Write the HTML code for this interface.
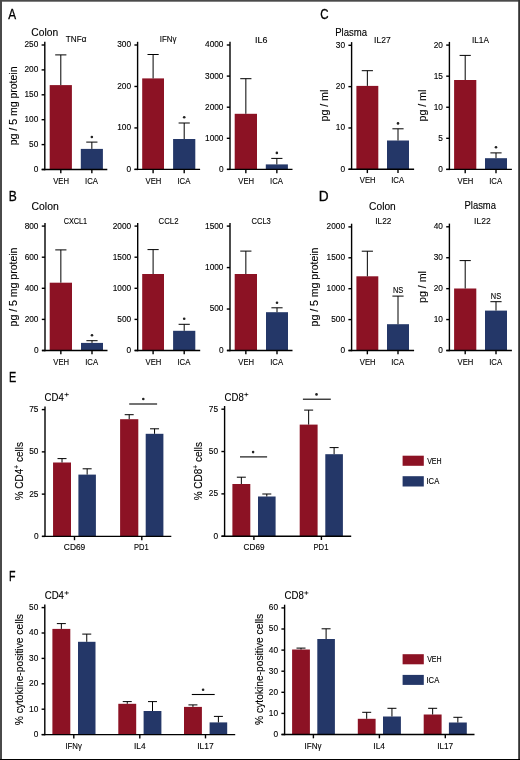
<!DOCTYPE html>
<html><head><meta charset="utf-8"><style>
html,body{margin:0;padding:0;background:#fff;}
body{width:520px;height:760px;overflow:hidden;position:relative;}
svg{position:absolute;left:0;top:0;display:block;will-change:transform;}
text{font-family:"Liberation Sans", sans-serif;fill:#000;stroke:#000;stroke-width:0.12px;}
</style></head><body>
<svg width="520" height="760" viewBox="0 0 520 760">
<rect x="0" y="0" width="520" height="760" fill="#fff"/>
<text x="8.23" y="18.60" font-size="14" text-anchor="start" textLength="7.85" lengthAdjust="spacingAndGlyphs" style="stroke-width:0.3px">A</text>
<text x="31.38" y="36.00" font-size="10.2" text-anchor="start" textLength="26.79" lengthAdjust="spacingAndGlyphs">Colon</text>
<text transform="translate(16.80,105.90) rotate(-90)" x="0" y="0" font-size="10.0" text-anchor="middle" textLength="78.80" lengthAdjust="spacingAndGlyphs">pg / 5 mg protein</text>
<rect x="49.70" y="85.10" width="22.20" height="84.40" fill="#8c1224"/>
<line x1="60.80" y1="54.90" x2="60.80" y2="85.10" stroke="#000" stroke-width="1.0"/>
<line x1="55.20" y1="54.90" x2="66.40" y2="54.90" stroke="#000" stroke-width="1.0"/>
<rect x="80.80" y="148.90" width="22.10" height="20.60" fill="#243768"/>
<line x1="91.85" y1="142.10" x2="91.85" y2="148.90" stroke="#000" stroke-width="1.0"/>
<line x1="86.25" y1="142.10" x2="97.45" y2="142.10" stroke="#000" stroke-width="1.0"/>
<line x1="41.80" y1="169.50" x2="107.30" y2="169.50" stroke="#000" stroke-width="1.4"/>
<line x1="60.80" y1="169.50" x2="60.80" y2="173.30" stroke="#000" stroke-width="1.4"/>
<line x1="91.85" y1="169.50" x2="91.85" y2="173.30" stroke="#000" stroke-width="1.4"/>
<line x1="44.80" y1="41.80" x2="44.80" y2="170.20" stroke="#000" stroke-width="1.4"/>
<line x1="41.60" y1="169.50" x2="44.80" y2="169.50" stroke="#000" stroke-width="1.4"/>
<text x="38.30" y="171.90" font-size="8.6" text-anchor="end" textLength="4.62" lengthAdjust="spacingAndGlyphs">0</text>
<line x1="41.60" y1="144.60" x2="44.80" y2="144.60" stroke="#000" stroke-width="1.4"/>
<text x="38.30" y="147.00" font-size="8.6" text-anchor="end" textLength="9.24" lengthAdjust="spacingAndGlyphs">50</text>
<line x1="41.60" y1="119.70" x2="44.80" y2="119.70" stroke="#000" stroke-width="1.4"/>
<text x="38.30" y="122.10" font-size="8.6" text-anchor="end" textLength="13.86" lengthAdjust="spacingAndGlyphs">100</text>
<line x1="41.60" y1="94.80" x2="44.80" y2="94.80" stroke="#000" stroke-width="1.4"/>
<text x="38.30" y="97.20" font-size="8.6" text-anchor="end" textLength="13.86" lengthAdjust="spacingAndGlyphs">150</text>
<line x1="41.60" y1="69.90" x2="44.80" y2="69.90" stroke="#000" stroke-width="1.4"/>
<text x="38.30" y="72.30" font-size="8.6" text-anchor="end" textLength="13.86" lengthAdjust="spacingAndGlyphs">200</text>
<line x1="41.60" y1="45.00" x2="44.80" y2="45.00" stroke="#000" stroke-width="1.4"/>
<text x="38.30" y="47.40" font-size="8.6" text-anchor="end" textLength="13.86" lengthAdjust="spacingAndGlyphs">250</text>
<text x="53.22" y="183.60" font-size="8.6" text-anchor="start" textLength="15.76" lengthAdjust="spacingAndGlyphs">VEH</text>
<text x="85.03" y="183.60" font-size="8.6" text-anchor="start" textLength="12.93" lengthAdjust="spacingAndGlyphs">ICA</text>
<text x="65.82" y="41.70" font-size="9.4" text-anchor="start" textLength="20.62" lengthAdjust="spacingAndGlyphs">TNF&#945;</text>
<circle cx="91.85" cy="137.00" r="1.3" fill="#222"/>
<rect x="142.20" y="78.40" width="21.80" height="91.00" fill="#8c1224"/>
<line x1="153.10" y1="54.50" x2="153.10" y2="78.40" stroke="#000" stroke-width="1.0"/>
<line x1="147.50" y1="54.50" x2="158.70" y2="54.50" stroke="#000" stroke-width="1.0"/>
<rect x="173.10" y="139.00" width="22.20" height="30.40" fill="#243768"/>
<line x1="184.20" y1="123.00" x2="184.20" y2="139.00" stroke="#000" stroke-width="1.0"/>
<line x1="178.60" y1="123.00" x2="189.80" y2="123.00" stroke="#000" stroke-width="1.0"/>
<line x1="134.60" y1="169.40" x2="200.10" y2="169.40" stroke="#000" stroke-width="1.4"/>
<line x1="153.10" y1="169.40" x2="153.10" y2="173.20" stroke="#000" stroke-width="1.4"/>
<line x1="184.20" y1="169.40" x2="184.20" y2="173.20" stroke="#000" stroke-width="1.4"/>
<line x1="137.60" y1="41.80" x2="137.60" y2="170.10" stroke="#000" stroke-width="1.4"/>
<line x1="134.40" y1="169.40" x2="137.60" y2="169.40" stroke="#000" stroke-width="1.4"/>
<text x="131.10" y="171.80" font-size="8.6" text-anchor="end" textLength="4.62" lengthAdjust="spacingAndGlyphs">0</text>
<line x1="134.40" y1="127.93" x2="137.60" y2="127.93" stroke="#000" stroke-width="1.4"/>
<text x="131.10" y="130.33" font-size="8.6" text-anchor="end" textLength="13.86" lengthAdjust="spacingAndGlyphs">100</text>
<line x1="134.40" y1="86.47" x2="137.60" y2="86.47" stroke="#000" stroke-width="1.4"/>
<text x="131.10" y="88.87" font-size="8.6" text-anchor="end" textLength="13.86" lengthAdjust="spacingAndGlyphs">200</text>
<line x1="134.40" y1="45.00" x2="137.60" y2="45.00" stroke="#000" stroke-width="1.4"/>
<text x="131.10" y="47.40" font-size="8.6" text-anchor="end" textLength="13.86" lengthAdjust="spacingAndGlyphs">300</text>
<text x="145.52" y="183.50" font-size="8.6" text-anchor="start" textLength="15.76" lengthAdjust="spacingAndGlyphs">VEH</text>
<text x="177.38" y="183.50" font-size="8.6" text-anchor="start" textLength="12.93" lengthAdjust="spacingAndGlyphs">ICA</text>
<text x="159.77" y="41.70" font-size="9.4" text-anchor="start" textLength="16.76" lengthAdjust="spacingAndGlyphs">IFN&#947;</text>
<circle cx="184.20" cy="117.30" r="1.3" fill="#222"/>
<rect x="234.70" y="113.80" width="22.30" height="55.60" fill="#8c1224"/>
<line x1="245.85" y1="78.70" x2="245.85" y2="113.80" stroke="#000" stroke-width="1.0"/>
<line x1="240.25" y1="78.70" x2="251.45" y2="78.70" stroke="#000" stroke-width="1.0"/>
<rect x="265.80" y="164.40" width="22.10" height="5.00" fill="#243768"/>
<line x1="276.85" y1="158.40" x2="276.85" y2="164.40" stroke="#000" stroke-width="1.0"/>
<line x1="271.25" y1="158.40" x2="282.45" y2="158.40" stroke="#000" stroke-width="1.0"/>
<line x1="227.00" y1="169.40" x2="292.50" y2="169.40" stroke="#000" stroke-width="1.4"/>
<line x1="245.85" y1="169.40" x2="245.85" y2="173.20" stroke="#000" stroke-width="1.4"/>
<line x1="276.85" y1="169.40" x2="276.85" y2="173.20" stroke="#000" stroke-width="1.4"/>
<line x1="230.00" y1="41.80" x2="230.00" y2="170.10" stroke="#000" stroke-width="1.4"/>
<line x1="226.80" y1="169.40" x2="230.00" y2="169.40" stroke="#000" stroke-width="1.4"/>
<text x="223.50" y="171.80" font-size="8.6" text-anchor="end" textLength="4.62" lengthAdjust="spacingAndGlyphs">0</text>
<line x1="226.80" y1="138.30" x2="230.00" y2="138.30" stroke="#000" stroke-width="1.4"/>
<text x="223.50" y="140.70" font-size="8.6" text-anchor="end" textLength="18.48" lengthAdjust="spacingAndGlyphs">1000</text>
<line x1="226.80" y1="107.20" x2="230.00" y2="107.20" stroke="#000" stroke-width="1.4"/>
<text x="223.50" y="109.60" font-size="8.6" text-anchor="end" textLength="18.48" lengthAdjust="spacingAndGlyphs">2000</text>
<line x1="226.80" y1="76.10" x2="230.00" y2="76.10" stroke="#000" stroke-width="1.4"/>
<text x="223.50" y="78.50" font-size="8.6" text-anchor="end" textLength="18.48" lengthAdjust="spacingAndGlyphs">3000</text>
<line x1="226.80" y1="45.00" x2="230.00" y2="45.00" stroke="#000" stroke-width="1.4"/>
<text x="223.50" y="47.40" font-size="8.6" text-anchor="end" textLength="18.48" lengthAdjust="spacingAndGlyphs">4000</text>
<text x="238.27" y="183.50" font-size="8.6" text-anchor="start" textLength="15.76" lengthAdjust="spacingAndGlyphs">VEH</text>
<text x="270.03" y="183.50" font-size="8.6" text-anchor="start" textLength="12.93" lengthAdjust="spacingAndGlyphs">ICA</text>
<text x="254.98" y="42.90" font-size="9.4" text-anchor="start" textLength="12.42" lengthAdjust="spacingAndGlyphs">IL6</text>
<circle cx="276.85" cy="152.90" r="1.3" fill="#222"/>
<text x="320.16" y="18.80" font-size="14" text-anchor="start" textLength="8.32" lengthAdjust="spacingAndGlyphs" style="stroke-width:0.3px">C</text>
<text x="335.22" y="36.00" font-size="10.2" text-anchor="start" textLength="31.88" lengthAdjust="spacingAndGlyphs">Plasma</text>
<text transform="translate(328.40,105.60) rotate(-90)" x="0" y="0" font-size="10.0" text-anchor="middle" textLength="31.80" lengthAdjust="spacingAndGlyphs">pg / ml</text>
<rect x="356.40" y="85.90" width="21.90" height="83.40" fill="#8c1224"/>
<line x1="367.35" y1="70.70" x2="367.35" y2="85.90" stroke="#000" stroke-width="1.0"/>
<line x1="361.75" y1="70.70" x2="372.95" y2="70.70" stroke="#000" stroke-width="1.0"/>
<rect x="387.00" y="140.50" width="22.00" height="28.80" fill="#243768"/>
<line x1="398.00" y1="128.80" x2="398.00" y2="140.50" stroke="#000" stroke-width="1.0"/>
<line x1="392.40" y1="128.80" x2="403.60" y2="128.80" stroke="#000" stroke-width="1.0"/>
<line x1="348.60" y1="169.30" x2="414.10" y2="169.30" stroke="#000" stroke-width="1.4"/>
<line x1="367.35" y1="169.30" x2="367.35" y2="173.10" stroke="#000" stroke-width="1.4"/>
<line x1="398.00" y1="169.30" x2="398.00" y2="173.10" stroke="#000" stroke-width="1.4"/>
<line x1="351.60" y1="42.10" x2="351.60" y2="170.00" stroke="#000" stroke-width="1.4"/>
<line x1="348.40" y1="169.30" x2="351.60" y2="169.30" stroke="#000" stroke-width="1.4"/>
<text x="345.10" y="171.70" font-size="8.6" text-anchor="end" textLength="4.62" lengthAdjust="spacingAndGlyphs">0</text>
<line x1="348.40" y1="127.97" x2="351.60" y2="127.97" stroke="#000" stroke-width="1.4"/>
<text x="345.10" y="130.37" font-size="8.6" text-anchor="end" textLength="9.24" lengthAdjust="spacingAndGlyphs">10</text>
<line x1="348.40" y1="86.63" x2="351.60" y2="86.63" stroke="#000" stroke-width="1.4"/>
<text x="345.10" y="89.03" font-size="8.6" text-anchor="end" textLength="9.24" lengthAdjust="spacingAndGlyphs">20</text>
<line x1="348.40" y1="45.30" x2="351.60" y2="45.30" stroke="#000" stroke-width="1.4"/>
<text x="345.10" y="47.70" font-size="8.6" text-anchor="end" textLength="9.24" lengthAdjust="spacingAndGlyphs">30</text>
<text x="359.77" y="183.40" font-size="8.6" text-anchor="start" textLength="15.76" lengthAdjust="spacingAndGlyphs">VEH</text>
<text x="391.18" y="183.40" font-size="8.6" text-anchor="start" textLength="12.93" lengthAdjust="spacingAndGlyphs">ICA</text>
<text x="374.12" y="42.90" font-size="9.4" text-anchor="start" textLength="16.51" lengthAdjust="spacingAndGlyphs">IL27</text>
<circle cx="398.00" cy="123.40" r="1.3" fill="#222"/>
<text transform="translate(426.40,105.60) rotate(-90)" x="0" y="0" font-size="10.0" text-anchor="middle" textLength="31.80" lengthAdjust="spacingAndGlyphs">pg / ml</text>
<rect x="454.10" y="80.00" width="22.20" height="89.40" fill="#8c1224"/>
<line x1="465.20" y1="55.40" x2="465.20" y2="80.00" stroke="#000" stroke-width="1.0"/>
<line x1="459.60" y1="55.40" x2="470.80" y2="55.40" stroke="#000" stroke-width="1.0"/>
<rect x="485.00" y="158.20" width="22.00" height="11.20" fill="#243768"/>
<line x1="496.00" y1="152.90" x2="496.00" y2="158.20" stroke="#000" stroke-width="1.0"/>
<line x1="490.40" y1="152.90" x2="501.60" y2="152.90" stroke="#000" stroke-width="1.0"/>
<line x1="446.40" y1="169.40" x2="511.90" y2="169.40" stroke="#000" stroke-width="1.4"/>
<line x1="465.20" y1="169.40" x2="465.20" y2="173.20" stroke="#000" stroke-width="1.4"/>
<line x1="496.00" y1="169.40" x2="496.00" y2="173.20" stroke="#000" stroke-width="1.4"/>
<line x1="449.40" y1="41.90" x2="449.40" y2="170.10" stroke="#000" stroke-width="1.4"/>
<line x1="446.20" y1="169.40" x2="449.40" y2="169.40" stroke="#000" stroke-width="1.4"/>
<text x="442.90" y="171.80" font-size="8.6" text-anchor="end" textLength="4.62" lengthAdjust="spacingAndGlyphs">0</text>
<line x1="446.20" y1="138.32" x2="449.40" y2="138.32" stroke="#000" stroke-width="1.4"/>
<text x="442.90" y="140.72" font-size="8.6" text-anchor="end" textLength="4.62" lengthAdjust="spacingAndGlyphs">5</text>
<line x1="446.20" y1="107.25" x2="449.40" y2="107.25" stroke="#000" stroke-width="1.4"/>
<text x="442.90" y="109.65" font-size="8.6" text-anchor="end" textLength="9.24" lengthAdjust="spacingAndGlyphs">10</text>
<line x1="446.20" y1="76.17" x2="449.40" y2="76.17" stroke="#000" stroke-width="1.4"/>
<text x="442.90" y="78.58" font-size="8.6" text-anchor="end" textLength="9.24" lengthAdjust="spacingAndGlyphs">15</text>
<line x1="446.20" y1="45.10" x2="449.40" y2="45.10" stroke="#000" stroke-width="1.4"/>
<text x="442.90" y="47.50" font-size="8.6" text-anchor="end" textLength="9.24" lengthAdjust="spacingAndGlyphs">20</text>
<text x="457.62" y="183.50" font-size="8.6" text-anchor="start" textLength="15.76" lengthAdjust="spacingAndGlyphs">VEH</text>
<text x="489.18" y="183.50" font-size="8.6" text-anchor="start" textLength="12.93" lengthAdjust="spacingAndGlyphs">ICA</text>
<text x="471.94" y="42.80" font-size="9.4" text-anchor="start" textLength="16.98" lengthAdjust="spacingAndGlyphs">IL1A</text>
<circle cx="496.00" cy="147.30" r="1.3" fill="#222"/>
<text x="8.76" y="200.70" font-size="14" text-anchor="start" textLength="8.02" lengthAdjust="spacingAndGlyphs" style="stroke-width:0.3px">B</text>
<text x="31.57" y="209.90" font-size="10.2" text-anchor="start" textLength="27.20" lengthAdjust="spacingAndGlyphs">Colon</text>
<text transform="translate(16.80,287.00) rotate(-90)" x="0" y="0" font-size="10.0" text-anchor="middle" textLength="78.80" lengthAdjust="spacingAndGlyphs">pg / 5 mg protein</text>
<rect x="49.70" y="282.70" width="22.30" height="67.80" fill="#8c1224"/>
<line x1="60.85" y1="249.90" x2="60.85" y2="282.70" stroke="#000" stroke-width="1.0"/>
<line x1="55.25" y1="249.90" x2="66.45" y2="249.90" stroke="#000" stroke-width="1.0"/>
<rect x="81.00" y="342.90" width="22.00" height="7.60" fill="#243768"/>
<line x1="92.00" y1="340.70" x2="92.00" y2="342.90" stroke="#000" stroke-width="1.0"/>
<line x1="86.40" y1="340.70" x2="97.60" y2="340.70" stroke="#000" stroke-width="1.0"/>
<line x1="42.00" y1="350.50" x2="107.50" y2="350.50" stroke="#000" stroke-width="1.4"/>
<line x1="60.85" y1="350.50" x2="60.85" y2="354.30" stroke="#000" stroke-width="1.4"/>
<line x1="92.00" y1="350.50" x2="92.00" y2="354.30" stroke="#000" stroke-width="1.4"/>
<line x1="45.00" y1="222.90" x2="45.00" y2="351.20" stroke="#000" stroke-width="1.4"/>
<line x1="41.80" y1="350.50" x2="45.00" y2="350.50" stroke="#000" stroke-width="1.4"/>
<text x="38.50" y="352.90" font-size="8.6" text-anchor="end" textLength="4.62" lengthAdjust="spacingAndGlyphs">0</text>
<line x1="41.80" y1="319.40" x2="45.00" y2="319.40" stroke="#000" stroke-width="1.4"/>
<text x="38.50" y="321.80" font-size="8.6" text-anchor="end" textLength="13.86" lengthAdjust="spacingAndGlyphs">200</text>
<line x1="41.80" y1="288.30" x2="45.00" y2="288.30" stroke="#000" stroke-width="1.4"/>
<text x="38.50" y="290.70" font-size="8.6" text-anchor="end" textLength="13.86" lengthAdjust="spacingAndGlyphs">400</text>
<line x1="41.80" y1="257.20" x2="45.00" y2="257.20" stroke="#000" stroke-width="1.4"/>
<text x="38.50" y="259.60" font-size="8.6" text-anchor="end" textLength="13.86" lengthAdjust="spacingAndGlyphs">600</text>
<line x1="41.80" y1="226.10" x2="45.00" y2="226.10" stroke="#000" stroke-width="1.4"/>
<text x="38.50" y="228.50" font-size="8.6" text-anchor="end" textLength="13.86" lengthAdjust="spacingAndGlyphs">800</text>
<text x="53.27" y="364.60" font-size="8.6" text-anchor="start" textLength="15.76" lengthAdjust="spacingAndGlyphs">VEH</text>
<text x="85.18" y="364.60" font-size="8.6" text-anchor="start" textLength="12.93" lengthAdjust="spacingAndGlyphs">ICA</text>
<text x="63.63" y="223.60" font-size="9.4" text-anchor="start" textLength="23.53" lengthAdjust="spacingAndGlyphs">CXCL1</text>
<circle cx="92.00" cy="335.30" r="1.3" fill="#222"/>
<rect x="142.20" y="274.00" width="21.80" height="76.50" fill="#8c1224"/>
<line x1="153.10" y1="249.60" x2="153.10" y2="274.00" stroke="#000" stroke-width="1.0"/>
<line x1="147.50" y1="249.60" x2="158.70" y2="249.60" stroke="#000" stroke-width="1.0"/>
<rect x="173.10" y="330.80" width="22.20" height="19.70" fill="#243768"/>
<line x1="184.20" y1="324.30" x2="184.20" y2="330.80" stroke="#000" stroke-width="1.0"/>
<line x1="178.60" y1="324.30" x2="189.80" y2="324.30" stroke="#000" stroke-width="1.0"/>
<line x1="134.70" y1="350.50" x2="200.20" y2="350.50" stroke="#000" stroke-width="1.4"/>
<line x1="153.10" y1="350.50" x2="153.10" y2="354.30" stroke="#000" stroke-width="1.4"/>
<line x1="184.20" y1="350.50" x2="184.20" y2="354.30" stroke="#000" stroke-width="1.4"/>
<line x1="137.70" y1="222.90" x2="137.70" y2="351.20" stroke="#000" stroke-width="1.4"/>
<line x1="134.50" y1="350.50" x2="137.70" y2="350.50" stroke="#000" stroke-width="1.4"/>
<text x="131.20" y="352.90" font-size="8.6" text-anchor="end" textLength="4.62" lengthAdjust="spacingAndGlyphs">0</text>
<line x1="134.50" y1="319.40" x2="137.70" y2="319.40" stroke="#000" stroke-width="1.4"/>
<text x="131.20" y="321.80" font-size="8.6" text-anchor="end" textLength="13.86" lengthAdjust="spacingAndGlyphs">500</text>
<line x1="134.50" y1="288.30" x2="137.70" y2="288.30" stroke="#000" stroke-width="1.4"/>
<text x="131.20" y="290.70" font-size="8.6" text-anchor="end" textLength="18.48" lengthAdjust="spacingAndGlyphs">1000</text>
<line x1="134.50" y1="257.20" x2="137.70" y2="257.20" stroke="#000" stroke-width="1.4"/>
<text x="131.20" y="259.60" font-size="8.6" text-anchor="end" textLength="18.48" lengthAdjust="spacingAndGlyphs">1500</text>
<line x1="134.50" y1="226.10" x2="137.70" y2="226.10" stroke="#000" stroke-width="1.4"/>
<text x="131.20" y="228.50" font-size="8.6" text-anchor="end" textLength="18.48" lengthAdjust="spacingAndGlyphs">2000</text>
<text x="145.52" y="364.60" font-size="8.6" text-anchor="start" textLength="15.76" lengthAdjust="spacingAndGlyphs">VEH</text>
<text x="177.38" y="364.60" font-size="8.6" text-anchor="start" textLength="12.93" lengthAdjust="spacingAndGlyphs">ICA</text>
<text x="158.61" y="223.60" font-size="9.4" text-anchor="start" textLength="19.89" lengthAdjust="spacingAndGlyphs">CCL2</text>
<circle cx="184.20" cy="318.70" r="1.3" fill="#222"/>
<rect x="234.70" y="274.00" width="22.30" height="76.50" fill="#8c1224"/>
<line x1="245.85" y1="251.10" x2="245.85" y2="274.00" stroke="#000" stroke-width="1.0"/>
<line x1="240.25" y1="251.10" x2="251.45" y2="251.10" stroke="#000" stroke-width="1.0"/>
<rect x="266.00" y="312.20" width="22.00" height="38.30" fill="#243768"/>
<line x1="277.00" y1="307.80" x2="277.00" y2="312.20" stroke="#000" stroke-width="1.0"/>
<line x1="271.40" y1="307.80" x2="282.60" y2="307.80" stroke="#000" stroke-width="1.0"/>
<line x1="227.00" y1="350.50" x2="292.50" y2="350.50" stroke="#000" stroke-width="1.4"/>
<line x1="245.85" y1="350.50" x2="245.85" y2="354.30" stroke="#000" stroke-width="1.4"/>
<line x1="277.00" y1="350.50" x2="277.00" y2="354.30" stroke="#000" stroke-width="1.4"/>
<line x1="230.00" y1="222.90" x2="230.00" y2="351.20" stroke="#000" stroke-width="1.4"/>
<line x1="226.80" y1="350.50" x2="230.00" y2="350.50" stroke="#000" stroke-width="1.4"/>
<text x="223.50" y="352.90" font-size="8.6" text-anchor="end" textLength="4.62" lengthAdjust="spacingAndGlyphs">0</text>
<line x1="226.80" y1="309.03" x2="230.00" y2="309.03" stroke="#000" stroke-width="1.4"/>
<text x="223.50" y="311.43" font-size="8.6" text-anchor="end" textLength="13.86" lengthAdjust="spacingAndGlyphs">500</text>
<line x1="226.80" y1="267.57" x2="230.00" y2="267.57" stroke="#000" stroke-width="1.4"/>
<text x="223.50" y="269.97" font-size="8.6" text-anchor="end" textLength="18.48" lengthAdjust="spacingAndGlyphs">1000</text>
<line x1="226.80" y1="226.10" x2="230.00" y2="226.10" stroke="#000" stroke-width="1.4"/>
<text x="223.50" y="228.50" font-size="8.6" text-anchor="end" textLength="18.48" lengthAdjust="spacingAndGlyphs">1500</text>
<text x="238.27" y="364.60" font-size="8.6" text-anchor="start" textLength="15.76" lengthAdjust="spacingAndGlyphs">VEH</text>
<text x="270.18" y="364.60" font-size="8.6" text-anchor="start" textLength="12.93" lengthAdjust="spacingAndGlyphs">ICA</text>
<text x="251.41" y="223.60" font-size="9.4" text-anchor="start" textLength="19.42" lengthAdjust="spacingAndGlyphs">CCL3</text>
<circle cx="277.00" cy="302.80" r="1.3" fill="#222"/>
<text x="318.83" y="200.70" font-size="14" text-anchor="start" textLength="9.88" lengthAdjust="spacingAndGlyphs" style="stroke-width:0.3px">D</text>
<text x="369.08" y="209.60" font-size="10.2" text-anchor="start" textLength="26.68" lengthAdjust="spacingAndGlyphs">Colon</text>
<text transform="translate(318.40,287.00) rotate(-90)" x="0" y="0" font-size="10.0" text-anchor="middle" textLength="78.80" lengthAdjust="spacingAndGlyphs">pg / 5 mg protein</text>
<rect x="356.40" y="276.30" width="21.90" height="74.20" fill="#8c1224"/>
<line x1="367.35" y1="251.20" x2="367.35" y2="276.30" stroke="#000" stroke-width="1.0"/>
<line x1="361.75" y1="251.20" x2="372.95" y2="251.20" stroke="#000" stroke-width="1.0"/>
<rect x="387.00" y="324.20" width="22.00" height="26.30" fill="#243768"/>
<line x1="398.00" y1="296.10" x2="398.00" y2="324.20" stroke="#000" stroke-width="1.0"/>
<line x1="392.40" y1="296.10" x2="403.60" y2="296.10" stroke="#000" stroke-width="1.0"/>
<line x1="348.60" y1="350.50" x2="414.10" y2="350.50" stroke="#000" stroke-width="1.4"/>
<line x1="367.35" y1="350.50" x2="367.35" y2="354.30" stroke="#000" stroke-width="1.4"/>
<line x1="398.00" y1="350.50" x2="398.00" y2="354.30" stroke="#000" stroke-width="1.4"/>
<line x1="351.60" y1="223.70" x2="351.60" y2="351.20" stroke="#000" stroke-width="1.4"/>
<line x1="348.40" y1="350.50" x2="351.60" y2="350.50" stroke="#000" stroke-width="1.4"/>
<text x="345.10" y="352.90" font-size="8.6" text-anchor="end" textLength="4.62" lengthAdjust="spacingAndGlyphs">0</text>
<line x1="348.40" y1="319.60" x2="351.60" y2="319.60" stroke="#000" stroke-width="1.4"/>
<text x="345.10" y="322.00" font-size="8.6" text-anchor="end" textLength="13.86" lengthAdjust="spacingAndGlyphs">500</text>
<line x1="348.40" y1="288.70" x2="351.60" y2="288.70" stroke="#000" stroke-width="1.4"/>
<text x="345.10" y="291.10" font-size="8.6" text-anchor="end" textLength="18.48" lengthAdjust="spacingAndGlyphs">1000</text>
<line x1="348.40" y1="257.80" x2="351.60" y2="257.80" stroke="#000" stroke-width="1.4"/>
<text x="345.10" y="260.20" font-size="8.6" text-anchor="end" textLength="18.48" lengthAdjust="spacingAndGlyphs">1500</text>
<line x1="348.40" y1="226.90" x2="351.60" y2="226.90" stroke="#000" stroke-width="1.4"/>
<text x="345.10" y="229.30" font-size="8.6" text-anchor="end" textLength="18.48" lengthAdjust="spacingAndGlyphs">2000</text>
<text x="359.77" y="364.60" font-size="8.6" text-anchor="start" textLength="15.76" lengthAdjust="spacingAndGlyphs">VEH</text>
<text x="391.18" y="364.60" font-size="8.6" text-anchor="start" textLength="12.93" lengthAdjust="spacingAndGlyphs">ICA</text>
<text x="375.34" y="223.50" font-size="9.4" text-anchor="start" textLength="15.97" lengthAdjust="spacingAndGlyphs">IL22</text>
<text x="392.99" y="292.80" font-size="8.6" text-anchor="start" textLength="10.35" lengthAdjust="spacingAndGlyphs">NS</text>
<text x="464.53" y="209.10" font-size="10.2" text-anchor="start" textLength="31.47" lengthAdjust="spacingAndGlyphs">Plasma</text>
<text transform="translate(426.40,287.00) rotate(-90)" x="0" y="0" font-size="10.0" text-anchor="middle" textLength="31.80" lengthAdjust="spacingAndGlyphs">pg / ml</text>
<rect x="454.10" y="288.50" width="22.20" height="62.00" fill="#8c1224"/>
<line x1="465.20" y1="260.60" x2="465.20" y2="288.50" stroke="#000" stroke-width="1.0"/>
<line x1="459.60" y1="260.60" x2="470.80" y2="260.60" stroke="#000" stroke-width="1.0"/>
<rect x="485.00" y="310.60" width="22.00" height="39.90" fill="#243768"/>
<line x1="496.00" y1="301.70" x2="496.00" y2="310.60" stroke="#000" stroke-width="1.0"/>
<line x1="490.40" y1="301.70" x2="501.60" y2="301.70" stroke="#000" stroke-width="1.0"/>
<line x1="446.40" y1="350.50" x2="511.90" y2="350.50" stroke="#000" stroke-width="1.4"/>
<line x1="465.20" y1="350.50" x2="465.20" y2="354.30" stroke="#000" stroke-width="1.4"/>
<line x1="496.00" y1="350.50" x2="496.00" y2="354.30" stroke="#000" stroke-width="1.4"/>
<line x1="449.40" y1="223.60" x2="449.40" y2="351.20" stroke="#000" stroke-width="1.4"/>
<line x1="446.20" y1="350.50" x2="449.40" y2="350.50" stroke="#000" stroke-width="1.4"/>
<text x="442.90" y="352.90" font-size="8.6" text-anchor="end" textLength="4.62" lengthAdjust="spacingAndGlyphs">0</text>
<line x1="446.20" y1="319.57" x2="449.40" y2="319.57" stroke="#000" stroke-width="1.4"/>
<text x="442.90" y="321.97" font-size="8.6" text-anchor="end" textLength="9.24" lengthAdjust="spacingAndGlyphs">10</text>
<line x1="446.20" y1="288.65" x2="449.40" y2="288.65" stroke="#000" stroke-width="1.4"/>
<text x="442.90" y="291.05" font-size="8.6" text-anchor="end" textLength="9.24" lengthAdjust="spacingAndGlyphs">20</text>
<line x1="446.20" y1="257.73" x2="449.40" y2="257.73" stroke="#000" stroke-width="1.4"/>
<text x="442.90" y="260.12" font-size="8.6" text-anchor="end" textLength="9.24" lengthAdjust="spacingAndGlyphs">30</text>
<line x1="446.20" y1="226.80" x2="449.40" y2="226.80" stroke="#000" stroke-width="1.4"/>
<text x="442.90" y="229.20" font-size="8.6" text-anchor="end" textLength="9.24" lengthAdjust="spacingAndGlyphs">40</text>
<text x="457.62" y="364.60" font-size="8.6" text-anchor="start" textLength="15.76" lengthAdjust="spacingAndGlyphs">VEH</text>
<text x="489.18" y="364.60" font-size="8.6" text-anchor="start" textLength="12.93" lengthAdjust="spacingAndGlyphs">ICA</text>
<text x="474.12" y="223.50" font-size="9.4" text-anchor="start" textLength="16.51" lengthAdjust="spacingAndGlyphs">IL22</text>
<text x="490.79" y="298.50" font-size="8.6" text-anchor="start" textLength="10.35" lengthAdjust="spacingAndGlyphs">NS</text>
<text x="9.06" y="381.90" font-size="14" text-anchor="start" textLength="7.26" lengthAdjust="spacingAndGlyphs" style="stroke-width:0.3px">E</text>
<text x="44.61" y="400.50" font-size="10.3" text-anchor="start" textLength="19.17" lengthAdjust="spacingAndGlyphs">CD4</text>
<line x1="64.50" y1="394.60" x2="68.80" y2="394.60" stroke="#000" stroke-width="0.75"/>
<line x1="66.65" y1="392.70" x2="66.65" y2="396.50" stroke="#000" stroke-width="0.75"/>
<text transform="translate(22.8,471.2) rotate(-90)" font-size="10" text-anchor="middle"><tspan>% CD4</tspan><tspan font-size="6.5" dy="-4">+</tspan><tspan dy="4"> cells</tspan></text>
<rect x="53.05" y="462.50" width="17.95" height="73.90" fill="#8c1224"/>
<line x1="62.02" y1="458.60" x2="62.02" y2="462.50" stroke="#000" stroke-width="1.0"/>
<line x1="57.52" y1="458.60" x2="66.53" y2="458.60" stroke="#000" stroke-width="1.0"/>
<rect x="78.40" y="474.60" width="17.50" height="61.80" fill="#243768"/>
<line x1="87.15" y1="468.80" x2="87.15" y2="474.60" stroke="#000" stroke-width="1.0"/>
<line x1="82.65" y1="468.80" x2="91.65" y2="468.80" stroke="#000" stroke-width="1.0"/>
<rect x="120.10" y="419.20" width="18.20" height="117.20" fill="#8c1224"/>
<line x1="129.20" y1="414.70" x2="129.20" y2="419.20" stroke="#000" stroke-width="1.0"/>
<line x1="124.70" y1="414.70" x2="133.70" y2="414.70" stroke="#000" stroke-width="1.0"/>
<rect x="145.70" y="433.80" width="17.70" height="102.60" fill="#243768"/>
<line x1="154.55" y1="428.80" x2="154.55" y2="433.80" stroke="#000" stroke-width="1.0"/>
<line x1="150.05" y1="428.80" x2="159.05" y2="428.80" stroke="#000" stroke-width="1.0"/>
<line x1="42.00" y1="536.40" x2="171.30" y2="536.40" stroke="#000" stroke-width="1.4"/>
<line x1="74.50" y1="536.40" x2="74.50" y2="540.20" stroke="#000" stroke-width="1.4"/>
<line x1="141.80" y1="536.40" x2="141.80" y2="540.20" stroke="#000" stroke-width="1.4"/>
<line x1="45.00" y1="406.40" x2="45.00" y2="537.10" stroke="#000" stroke-width="1.4"/>
<line x1="41.80" y1="536.40" x2="45.00" y2="536.40" stroke="#000" stroke-width="1.4"/>
<text x="38.50" y="538.80" font-size="8.6" text-anchor="end" textLength="4.62" lengthAdjust="spacingAndGlyphs">0</text>
<line x1="41.80" y1="494.13" x2="45.00" y2="494.13" stroke="#000" stroke-width="1.4"/>
<text x="38.50" y="496.53" font-size="8.6" text-anchor="end" textLength="9.24" lengthAdjust="spacingAndGlyphs">25</text>
<line x1="41.80" y1="451.87" x2="45.00" y2="451.87" stroke="#000" stroke-width="1.4"/>
<text x="38.50" y="454.27" font-size="8.6" text-anchor="end" textLength="9.24" lengthAdjust="spacingAndGlyphs">50</text>
<line x1="41.80" y1="409.60" x2="45.00" y2="409.60" stroke="#000" stroke-width="1.4"/>
<text x="38.50" y="412.00" font-size="8.6" text-anchor="end" textLength="9.24" lengthAdjust="spacingAndGlyphs">75</text>
<text x="63.87" y="550.40" font-size="8.7" text-anchor="start" textLength="21.42" lengthAdjust="spacingAndGlyphs">CD69</text>
<text x="133.98" y="550.40" font-size="8.7" text-anchor="start" textLength="14.69" lengthAdjust="spacingAndGlyphs">PD1</text>
<line x1="129.20" y1="404.00" x2="157.10" y2="404.00" stroke="#000" stroke-width="1.1"/>
<circle cx="143.30" cy="399.00" r="1.3" fill="#222"/>
<text x="224.61" y="400.50" font-size="10.3" text-anchor="start" textLength="19.20" lengthAdjust="spacingAndGlyphs">CD8</text>
<line x1="244.30" y1="394.55" x2="248.30" y2="394.55" stroke="#000" stroke-width="0.75"/>
<line x1="246.30" y1="392.70" x2="246.30" y2="396.40" stroke="#000" stroke-width="0.75"/>
<text transform="translate(202.3,471.2) rotate(-90)" font-size="10" text-anchor="middle"><tspan>% CD8</tspan><tspan font-size="6.5" dy="-4">+</tspan><tspan dy="4"> cells</tspan></text>
<rect x="232.40" y="484.00" width="17.90" height="52.20" fill="#8c1224"/>
<line x1="241.35" y1="477.20" x2="241.35" y2="484.00" stroke="#000" stroke-width="1.0"/>
<line x1="236.85" y1="477.20" x2="245.85" y2="477.20" stroke="#000" stroke-width="1.0"/>
<rect x="258.00" y="496.50" width="17.60" height="39.70" fill="#243768"/>
<line x1="266.80" y1="494.00" x2="266.80" y2="496.50" stroke="#000" stroke-width="1.0"/>
<line x1="262.30" y1="494.00" x2="271.30" y2="494.00" stroke="#000" stroke-width="1.0"/>
<rect x="299.70" y="424.60" width="17.90" height="111.60" fill="#8c1224"/>
<line x1="308.65" y1="410.10" x2="308.65" y2="424.60" stroke="#000" stroke-width="1.0"/>
<line x1="304.15" y1="410.10" x2="313.15" y2="410.10" stroke="#000" stroke-width="1.0"/>
<rect x="325.30" y="454.20" width="17.60" height="82.00" fill="#243768"/>
<line x1="334.10" y1="447.60" x2="334.10" y2="454.20" stroke="#000" stroke-width="1.0"/>
<line x1="329.60" y1="447.60" x2="338.60" y2="447.60" stroke="#000" stroke-width="1.0"/>
<line x1="221.60" y1="536.20" x2="351.20" y2="536.20" stroke="#000" stroke-width="1.4"/>
<line x1="253.90" y1="536.20" x2="253.90" y2="540.00" stroke="#000" stroke-width="1.4"/>
<line x1="321.40" y1="536.20" x2="321.40" y2="540.00" stroke="#000" stroke-width="1.4"/>
<line x1="224.60" y1="406.00" x2="224.60" y2="536.90" stroke="#000" stroke-width="1.4"/>
<line x1="221.40" y1="536.20" x2="224.60" y2="536.20" stroke="#000" stroke-width="1.4"/>
<text x="218.10" y="538.60" font-size="8.6" text-anchor="end" textLength="4.62" lengthAdjust="spacingAndGlyphs">0</text>
<line x1="221.40" y1="493.87" x2="224.60" y2="493.87" stroke="#000" stroke-width="1.4"/>
<text x="218.10" y="496.27" font-size="8.6" text-anchor="end" textLength="9.24" lengthAdjust="spacingAndGlyphs">25</text>
<line x1="221.40" y1="451.53" x2="224.60" y2="451.53" stroke="#000" stroke-width="1.4"/>
<text x="218.10" y="453.93" font-size="8.6" text-anchor="end" textLength="9.24" lengthAdjust="spacingAndGlyphs">50</text>
<line x1="221.40" y1="409.20" x2="224.60" y2="409.20" stroke="#000" stroke-width="1.4"/>
<text x="218.10" y="411.60" font-size="8.6" text-anchor="end" textLength="9.24" lengthAdjust="spacingAndGlyphs">75</text>
<text x="243.58" y="550.40" font-size="8.7" text-anchor="start" textLength="20.90" lengthAdjust="spacingAndGlyphs">CD69</text>
<text x="313.47" y="550.40" font-size="8.7" text-anchor="start" textLength="15.01" lengthAdjust="spacingAndGlyphs">PD1</text>
<line x1="240.00" y1="456.90" x2="267.10" y2="456.90" stroke="#000" stroke-width="1.1"/>
<circle cx="253.10" cy="452.10" r="1.3" fill="#222"/>
<line x1="302.90" y1="399.20" x2="330.80" y2="399.20" stroke="#000" stroke-width="1.1"/>
<circle cx="316.50" cy="394.40" r="1.3" fill="#222"/>
<rect x="402.60" y="455.70" width="21.20" height="10.10" fill="#8c1224"/>
<rect x="402.60" y="476.20" width="21.20" height="10.30" fill="#243768"/>
<text x="427.17" y="463.80" font-size="8.6" text-anchor="start" textLength="14.51" lengthAdjust="spacingAndGlyphs">VEH</text>
<text x="426.50" y="484.30" font-size="8.6" text-anchor="start" textLength="12.72" lengthAdjust="spacingAndGlyphs">ICA</text>
<text x="9.08" y="580.90" font-size="14" text-anchor="start" textLength="6.50" lengthAdjust="spacingAndGlyphs" style="stroke-width:0.3px">F</text>
<text x="44.71" y="598.50" font-size="10.3" text-anchor="start" textLength="19.27" lengthAdjust="spacingAndGlyphs">CD4</text>
<line x1="64.50" y1="592.95" x2="68.80" y2="592.95" stroke="#000" stroke-width="0.75"/>
<line x1="66.65" y1="591.10" x2="66.65" y2="594.80" stroke="#000" stroke-width="0.75"/>
<text transform="translate(22.80,669.70) rotate(-90)" x="0" y="0" font-size="10.4" text-anchor="middle" textLength="111.00" lengthAdjust="spacingAndGlyphs">% cytokine-positive cells</text>
<rect x="52.40" y="628.90" width="17.90" height="105.70" fill="#8c1224"/>
<line x1="61.35" y1="623.60" x2="61.35" y2="628.90" stroke="#000" stroke-width="1.0"/>
<line x1="56.85" y1="623.60" x2="65.85" y2="623.60" stroke="#000" stroke-width="1.0"/>
<rect x="78.00" y="641.80" width="17.50" height="92.80" fill="#243768"/>
<line x1="86.75" y1="634.10" x2="86.75" y2="641.80" stroke="#000" stroke-width="1.0"/>
<line x1="82.25" y1="634.10" x2="91.25" y2="634.10" stroke="#000" stroke-width="1.0"/>
<rect x="118.30" y="703.80" width="17.90" height="30.80" fill="#8c1224"/>
<line x1="127.25" y1="701.60" x2="127.25" y2="703.80" stroke="#000" stroke-width="1.0"/>
<line x1="122.75" y1="701.60" x2="131.75" y2="701.60" stroke="#000" stroke-width="1.0"/>
<rect x="143.60" y="711.00" width="17.80" height="23.60" fill="#243768"/>
<line x1="152.50" y1="701.60" x2="152.50" y2="711.00" stroke="#000" stroke-width="1.0"/>
<line x1="148.00" y1="701.60" x2="157.00" y2="701.60" stroke="#000" stroke-width="1.0"/>
<rect x="184.00" y="706.90" width="17.90" height="27.70" fill="#8c1224"/>
<line x1="192.95" y1="704.90" x2="192.95" y2="706.90" stroke="#000" stroke-width="1.0"/>
<line x1="188.45" y1="704.90" x2="197.45" y2="704.90" stroke="#000" stroke-width="1.0"/>
<rect x="209.60" y="722.40" width="17.60" height="12.20" fill="#243768"/>
<line x1="218.40" y1="716.40" x2="218.40" y2="722.40" stroke="#000" stroke-width="1.0"/>
<line x1="213.90" y1="716.40" x2="222.90" y2="716.40" stroke="#000" stroke-width="1.0"/>
<line x1="41.80" y1="734.60" x2="235.20" y2="734.60" stroke="#000" stroke-width="1.4"/>
<line x1="73.80" y1="734.60" x2="73.80" y2="738.40" stroke="#000" stroke-width="1.4"/>
<line x1="139.80" y1="734.60" x2="139.80" y2="738.40" stroke="#000" stroke-width="1.4"/>
<line x1="205.50" y1="734.60" x2="205.50" y2="738.40" stroke="#000" stroke-width="1.4"/>
<line x1="44.80" y1="604.40" x2="44.80" y2="735.30" stroke="#000" stroke-width="1.4"/>
<line x1="41.60" y1="734.60" x2="44.80" y2="734.60" stroke="#000" stroke-width="1.4"/>
<text x="38.30" y="737.00" font-size="8.6" text-anchor="end" textLength="4.62" lengthAdjust="spacingAndGlyphs">0</text>
<line x1="41.60" y1="709.20" x2="44.80" y2="709.20" stroke="#000" stroke-width="1.4"/>
<text x="38.30" y="711.60" font-size="8.6" text-anchor="end" textLength="9.24" lengthAdjust="spacingAndGlyphs">10</text>
<line x1="41.60" y1="683.80" x2="44.80" y2="683.80" stroke="#000" stroke-width="1.4"/>
<text x="38.30" y="686.20" font-size="8.6" text-anchor="end" textLength="9.24" lengthAdjust="spacingAndGlyphs">20</text>
<line x1="41.60" y1="658.40" x2="44.80" y2="658.40" stroke="#000" stroke-width="1.4"/>
<text x="38.30" y="660.80" font-size="8.6" text-anchor="end" textLength="9.24" lengthAdjust="spacingAndGlyphs">30</text>
<line x1="41.60" y1="633.00" x2="44.80" y2="633.00" stroke="#000" stroke-width="1.4"/>
<text x="38.30" y="635.40" font-size="8.6" text-anchor="end" textLength="9.24" lengthAdjust="spacingAndGlyphs">40</text>
<line x1="41.60" y1="607.60" x2="44.80" y2="607.60" stroke="#000" stroke-width="1.4"/>
<text x="38.30" y="610.00" font-size="8.6" text-anchor="end" textLength="9.24" lengthAdjust="spacingAndGlyphs">50</text>
<text x="65.38" y="749.10" font-size="8.7" text-anchor="start" textLength="16.45" lengthAdjust="spacingAndGlyphs">IFN&#947;</text>
<text x="133.93" y="749.10" font-size="8.7" text-anchor="start" textLength="11.62" lengthAdjust="spacingAndGlyphs">IL4</text>
<text x="197.22" y="749.10" font-size="8.7" text-anchor="start" textLength="16.40" lengthAdjust="spacingAndGlyphs">IL17</text>
<line x1="191.80" y1="694.50" x2="214.70" y2="694.50" stroke="#000" stroke-width="1.1"/>
<circle cx="203.10" cy="689.70" r="1.3" fill="#222"/>
<text x="284.61" y="598.50" font-size="10.3" text-anchor="start" textLength="19.31" lengthAdjust="spacingAndGlyphs">CD8</text>
<line x1="304.30" y1="592.95" x2="308.40" y2="592.95" stroke="#000" stroke-width="0.75"/>
<line x1="306.35" y1="591.10" x2="306.35" y2="594.80" stroke="#000" stroke-width="0.75"/>
<text transform="translate(262.80,669.40) rotate(-90)" x="0" y="0" font-size="10.4" text-anchor="middle" textLength="111.00" lengthAdjust="spacingAndGlyphs">% cytokine-positive cells</text>
<rect x="292.10" y="649.50" width="17.80" height="85.00" fill="#8c1224"/>
<line x1="301.00" y1="648.10" x2="301.00" y2="649.50" stroke="#000" stroke-width="1.0"/>
<line x1="296.50" y1="648.10" x2="305.50" y2="648.10" stroke="#000" stroke-width="1.0"/>
<rect x="317.30" y="639.00" width="17.60" height="95.50" fill="#243768"/>
<line x1="326.10" y1="628.80" x2="326.10" y2="639.00" stroke="#000" stroke-width="1.0"/>
<line x1="321.60" y1="628.80" x2="330.60" y2="628.80" stroke="#000" stroke-width="1.0"/>
<rect x="357.80" y="718.80" width="17.80" height="15.70" fill="#8c1224"/>
<line x1="366.70" y1="712.30" x2="366.70" y2="718.80" stroke="#000" stroke-width="1.0"/>
<line x1="362.20" y1="712.30" x2="371.20" y2="712.30" stroke="#000" stroke-width="1.0"/>
<rect x="383.00" y="716.50" width="17.90" height="18.00" fill="#243768"/>
<line x1="391.95" y1="708.30" x2="391.95" y2="716.50" stroke="#000" stroke-width="1.0"/>
<line x1="387.45" y1="708.30" x2="396.45" y2="708.30" stroke="#000" stroke-width="1.0"/>
<rect x="423.70" y="714.50" width="17.90" height="20.00" fill="#8c1224"/>
<line x1="432.65" y1="708.30" x2="432.65" y2="714.50" stroke="#000" stroke-width="1.0"/>
<line x1="428.15" y1="708.30" x2="437.15" y2="708.30" stroke="#000" stroke-width="1.0"/>
<rect x="448.90" y="722.50" width="17.90" height="12.00" fill="#243768"/>
<line x1="457.85" y1="717.30" x2="457.85" y2="722.50" stroke="#000" stroke-width="1.0"/>
<line x1="453.35" y1="717.30" x2="462.35" y2="717.30" stroke="#000" stroke-width="1.0"/>
<line x1="281.60" y1="734.50" x2="474.50" y2="734.50" stroke="#000" stroke-width="1.4"/>
<line x1="313.40" y1="734.50" x2="313.40" y2="738.30" stroke="#000" stroke-width="1.4"/>
<line x1="379.40" y1="734.50" x2="379.40" y2="738.30" stroke="#000" stroke-width="1.4"/>
<line x1="445.30" y1="734.50" x2="445.30" y2="738.30" stroke="#000" stroke-width="1.4"/>
<line x1="284.60" y1="604.70" x2="284.60" y2="735.20" stroke="#000" stroke-width="1.4"/>
<line x1="281.40" y1="734.50" x2="284.60" y2="734.50" stroke="#000" stroke-width="1.4"/>
<text x="278.10" y="736.90" font-size="8.6" text-anchor="end" textLength="4.62" lengthAdjust="spacingAndGlyphs">0</text>
<line x1="281.40" y1="713.40" x2="284.60" y2="713.40" stroke="#000" stroke-width="1.4"/>
<text x="278.10" y="715.80" font-size="8.6" text-anchor="end" textLength="9.24" lengthAdjust="spacingAndGlyphs">10</text>
<line x1="281.40" y1="692.30" x2="284.60" y2="692.30" stroke="#000" stroke-width="1.4"/>
<text x="278.10" y="694.70" font-size="8.6" text-anchor="end" textLength="9.24" lengthAdjust="spacingAndGlyphs">20</text>
<line x1="281.40" y1="671.20" x2="284.60" y2="671.20" stroke="#000" stroke-width="1.4"/>
<text x="278.10" y="673.60" font-size="8.6" text-anchor="end" textLength="9.24" lengthAdjust="spacingAndGlyphs">30</text>
<line x1="281.40" y1="650.10" x2="284.60" y2="650.10" stroke="#000" stroke-width="1.4"/>
<text x="278.10" y="652.50" font-size="8.6" text-anchor="end" textLength="9.24" lengthAdjust="spacingAndGlyphs">40</text>
<line x1="281.40" y1="629.00" x2="284.60" y2="629.00" stroke="#000" stroke-width="1.4"/>
<text x="278.10" y="631.40" font-size="8.6" text-anchor="end" textLength="9.24" lengthAdjust="spacingAndGlyphs">50</text>
<line x1="281.40" y1="607.90" x2="284.60" y2="607.90" stroke="#000" stroke-width="1.4"/>
<text x="278.10" y="610.30" font-size="8.6" text-anchor="end" textLength="9.24" lengthAdjust="spacingAndGlyphs">60</text>
<text x="304.56" y="749.10" font-size="8.7" text-anchor="start" textLength="16.97" lengthAdjust="spacingAndGlyphs">IFN&#947;</text>
<text x="373.32" y="749.10" font-size="8.7" text-anchor="start" textLength="11.73" lengthAdjust="spacingAndGlyphs">IL4</text>
<text x="437.14" y="749.10" font-size="8.7" text-anchor="start" textLength="16.08" lengthAdjust="spacingAndGlyphs">IL17</text>
<rect x="402.60" y="654.20" width="21.20" height="10.10" fill="#8c1224"/>
<rect x="402.60" y="674.90" width="21.20" height="10.00" fill="#243768"/>
<text x="427.17" y="662.30" font-size="8.6" text-anchor="start" textLength="14.51" lengthAdjust="spacingAndGlyphs">VEH</text>
<text x="426.50" y="682.80" font-size="8.6" text-anchor="start" textLength="12.72" lengthAdjust="spacingAndGlyphs">ICA</text>
<rect x="0" y="0" width="520" height="1.7" fill="#4a4a4a"/>
<rect x="0" y="0" width="2" height="760" fill="#4a4a4a"/>
<rect x="518.2" y="0" width="1.8" height="760" fill="#333"/>
<rect x="0" y="759" width="520" height="1" fill="#000"/>
</svg>
</body></html>
